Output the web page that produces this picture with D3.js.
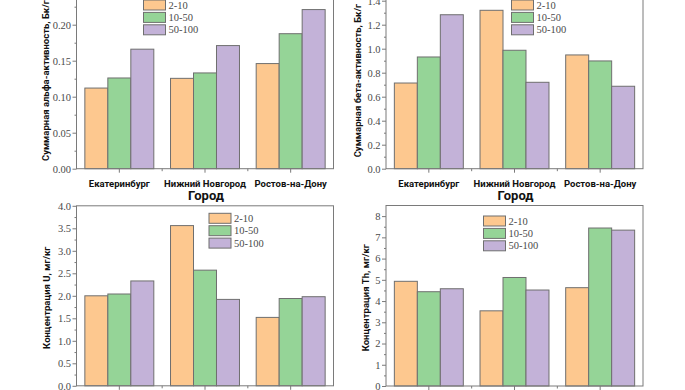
<!DOCTYPE html>
<html>
<head>
<meta charset="utf-8">
<script src="https://cdn.jsdelivr.net/npm/d3@7"></script>
<style>
  html, body { margin: 0; padding: 0; background: #fff; }
  svg { display: block; }
</style>
</head>
<body>
<svg id="chart" width="685" height="390"></svg>
<script>
// ---------- DATA ----------
const categories = ["Екатеринбург", "Нижний Новгород", "Ростов-на-Дону"];
const seriesNames = ["2-10", "10-50", "50-100"];

// Суммарная альфа-активность, Бк/г
const alpha_2_10   = [0.112, 0.1255, 0.146];
const alpha_10_50  = [0.126, 0.133, 0.1875];
const alpha_50_100 = [0.166, 0.171, 0.221];

// Суммарная бета-активность, Бк/г
const beta_2_10   = [0.714, 1.32, 0.948];
const beta_10_50  = [0.931, 0.987, 0.898];
const beta_50_100 = [1.283, 0.72, 0.687];

// Концентрация U, мг/кг
const u_2_10   = [2.0, 3.56, 1.52];
const u_10_50  = [2.04, 2.57, 1.94];
const u_50_100 = [2.33, 1.92, 1.98];

// Концентрация Th, мг/кг
const th_2_10   = [4.93, 3.54, 4.63];
const th_10_50  = [4.44, 5.11, 7.44];
const th_50_100 = [4.58, 4.52, 7.34];

const alphaTicks = [0, 0.05, 0.10, 0.15, 0.20];
const betaTicks  = [0, 0.2, 0.4, 0.6, 0.8, 1.0, 1.2, 1.4];
const uTicks     = [0, 0.5, 1.0, 1.5, 2.0, 2.5, 3.0, 3.5, 4.0];
const thTicks    = [0, 1, 2, 3, 4, 5, 6, 7, 8];

const xTitle = "Город";

// ---------- STYLE / LAYOUT ----------
const colors = ["#fdc88f", "#95d497", "#c3b2d8"];
const strokeCol = "#6f6f6f";
const frameCol = "#7a7a7a";
const tickTextCol = "#4a4a4a";
const serif = "'Liberation Serif', 'Times New Roman', serif";
const sans = "Roboto, 'Liberation Sans', Arial, sans-serif";

const panels = [
  { series: [alpha_2_10, alpha_10_50, alpha_50_100], ticks: alphaTicks, max: 0.25, fmt: d3.format(".2f"),
    title: "Суммарная альфа-активность, Бк/г", xLabels: true,
    x0: 76.5, x1: 333.5, yTop: -11.3, yBot: 168.7, titleX: 45, legX: 143.5, legY: 5 },
  { series: [beta_2_10, beta_10_50, beta_50_100], ticks: betaTicks, max: 1.5, fmt: d3.format(".1f"),
    title: "Суммарная бета-активность, Бк/г", xLabels: true,
    x0: 386, x1: 643, yTop: -11.3, yBot: 168.7, titleX: 357, legX: 511.5, legY: 5 },
  { series: [u_2_10, u_10_50, u_50_100], ticks: uTicks, max: 4.0, fmt: d3.format(".1f"),
    title: "Концентрация U, мг/кг", xLabels: false,
    x0: 76.5, x1: 333.5, yTop: 205.8, yBot: 385.8, titleX: 46, legX: 209, legY: 218.3 },
  { series: [th_2_10, th_10_50, th_50_100], ticks: thTicks, max: 8.5, fmt: d3.format("d"),
    title: "Концентрация Th, мг/кг", xLabels: false,
    x0: 386, x1: 643, yTop: 205.5, yBot: 386, titleX: 365.5, legX: 483.5, legY: 221 }
];

const svg = d3.select("#chart");

panels.forEach(p => {
  const g = svg.append("g");
  const x = d3.scaleBand().domain(categories).range([p.x0, p.x1]).paddingInner(0).paddingOuter(0);
  const xs = d3.scaleBand().domain(seriesNames)
    .range([x.bandwidth() * 0.0975, x.bandwidth() * 0.9025]).padding(0);
  const y = d3.scaleLinear().domain([0, p.max]).range([p.yBot, p.yTop]);

  // bars
  seriesNames.forEach((s, si) => {
    g.append("g").selectAll("rect")
      .data(p.series[si])
      .join("rect")
      .attr("x", (d, i) => x(categories[i]) + xs(s))
      .attr("y", d => y(d))
      .attr("width", xs.bandwidth())
      .attr("height", d => y(0) - y(d))
      .attr("fill", colors[si])
      .attr("stroke", strokeCol)
      .attr("stroke-width", 1);
  });

  // frame
  g.append("rect")
    .attr("x", p.x0).attr("y", p.yTop)
    .attr("width", p.x1 - p.x0).attr("height", p.yBot - p.yTop)
    .attr("fill", "none").attr("stroke", frameCol).attr("stroke-width", 1);

  // y axis major
  const yAx = g.append("g").attr("transform", `translate(${p.x0},0)`)
    .call(d3.axisLeft(y).tickValues(p.ticks).tickFormat(p.fmt).tickSize(4).tickPadding(1.5));
  yAx.select(".domain").remove();
  yAx.selectAll("line").attr("stroke", frameCol);
  yAx.selectAll("text").attr("fill", tickTextCol).style("font-family", serif).style("font-size", "10.5px");

  // y axis minor
  const step = p.ticks[1] - p.ticks[0];
  const minor = d3.range(step / 2, p.max, step);
  const yMin = g.append("g").attr("transform", `translate(${p.x0},0)`)
    .call(d3.axisLeft(y).tickValues(minor).tickFormat("").tickSize(2));
  yMin.select(".domain").remove();
  yMin.selectAll("line").attr("stroke", frameCol);

  // x axis ticks (major at centers, minor at boundaries)
  g.append("g").selectAll("line.maj")
    .data(categories).join("line")
    .attr("x1", d => x(d) + x.bandwidth() / 2).attr("x2", d => x(d) + x.bandwidth() / 2)
    .attr("y1", p.yBot).attr("y2", p.yBot + 4)
    .attr("stroke", frameCol);
  g.append("g").selectAll("line.min")
    .data(categories.slice(1)).join("line")
    .attr("x1", d => x(d)).attr("x2", d => x(d))
    .attr("y1", p.yBot).attr("y2", p.yBot + 2.5)
    .attr("stroke", frameCol);

  if (p.xLabels) {
    // category labels
    g.append("g").selectAll("text")
      .data(categories).join("text")
      .attr("x", d => x(d) + x.bandwidth() / 2)
      .attr("y", p.yBot + 18.5)
      .attr("text-anchor", "middle")
      .style("font-family", sans).style("font-weight", 700).style("font-size", "9.5px")
      .attr("fill", "#111")
      .text(d => d);

    // x title
    g.append("text")
      .attr("x", (p.x0 + p.x1) / 2 + 1)
      .attr("y", p.yBot + 31)
      .attr("text-anchor", "middle")
      .style("font-family", sans).style("font-weight", 700).style("font-size", "13px")
      .attr("fill", "#111")
      .text(xTitle);
  }

  // y title
  g.append("text")
    .attr("transform", `translate(${p.titleX},${(p.yTop + p.yBot) / 2 + 2}) rotate(-90)`)
    .attr("text-anchor", "middle")
    .attr("dominant-baseline", "central")
    .style("font-family", sans).style("font-weight", 700).style("font-size", "9.5px")
    .attr("fill", "#111")
    .text(p.title);

  // legend
  const leg = g.append("g");
  seriesNames.forEach((s, si) => {
    const cy = p.legY + si * 12.4;
    leg.append("rect")
      .attr("x", p.legX).attr("y", cy - 5)
      .attr("width", 22).attr("height", 10)
      .attr("fill", colors[si]).attr("stroke", strokeCol).attr("stroke-width", 1);
    leg.append("text")
      .attr("x", p.legX + 25).attr("y", cy)
      .attr("dominant-baseline", "central")
      .style("font-family", serif).style("font-size", "10.5px")
      .attr("fill", tickTextCol)
      .text(s);
  });
});
</script>
</body>
</html>
